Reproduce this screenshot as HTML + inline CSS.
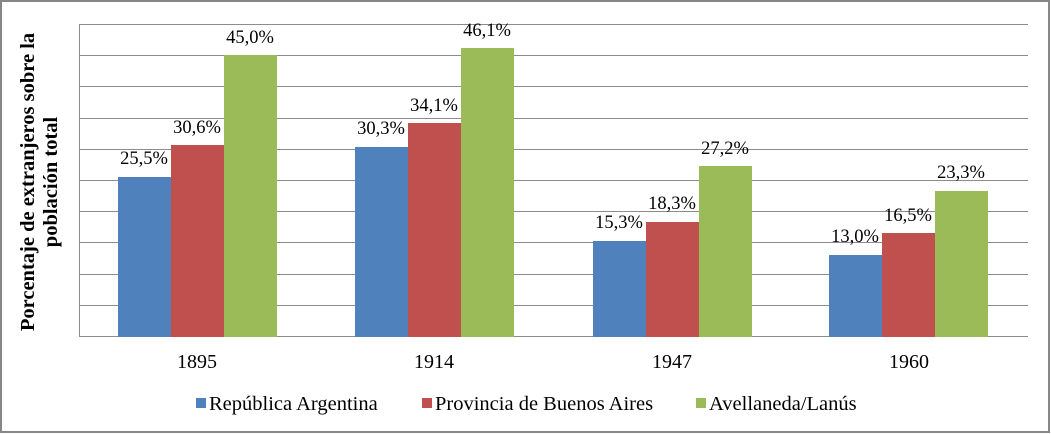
<!DOCTYPE html>
<html><head><style>body{margin:0;background:#fff}svg{display:block}</style></head><body>
<svg width="1051" height="434" xmlns="http://www.w3.org/2000/svg" font-family="Liberation Serif, serif">
<rect x="1" y="1" width="1048" height="431" fill="#fff" stroke="#878787" stroke-width="2"/>
<g stroke="#8c8c8c" stroke-width="1">
<line x1="79" y1="24.5" x2="1028" y2="24.5"/><line x1="79" y1="55.5" x2="1028" y2="55.5"/><line x1="79" y1="86.5" x2="1028" y2="86.5"/><line x1="79" y1="118.5" x2="1028" y2="118.5"/><line x1="79" y1="149.5" x2="1028" y2="149.5"/><line x1="79" y1="180.5" x2="1028" y2="180.5"/><line x1="79" y1="211.5" x2="1028" y2="211.5"/><line x1="79" y1="242.5" x2="1028" y2="242.5"/><line x1="79" y1="274.5" x2="1028" y2="274.5"/><line x1="79" y1="305.5" x2="1028" y2="305.5"/><line x1="79" y1="336.5" x2="1028" y2="336.5"/>
<line x1="79.5" y1="24" x2="79.5" y2="337"/>
</g>
<g>
<rect x="118" y="177" width="53" height="160" fill="#4f81bd"/>
<rect x="171" y="145" width="53" height="192" fill="#c0504d"/>
<rect x="224" y="55" width="53" height="282" fill="#9bbb59"/>
<rect x="355" y="147" width="53" height="190" fill="#4f81bd"/>
<rect x="408" y="123" width="53" height="214" fill="#c0504d"/>
<rect x="461" y="48" width="53" height="289" fill="#9bbb59"/>
<rect x="593" y="241" width="53" height="96" fill="#4f81bd"/>
<rect x="646" y="222" width="53" height="115" fill="#c0504d"/>
<rect x="699" y="166" width="53" height="171" fill="#9bbb59"/>
<rect x="829" y="255" width="53" height="82" fill="#4f81bd"/>
<rect x="882" y="233" width="53" height="104" fill="#c0504d"/>
<rect x="935" y="191" width="53" height="146" fill="#9bbb59"/>
</g>
<g font-size="18.5" text-anchor="middle" fill="#000">
<text x="144" y="164">25,5%</text><text x="197" y="133">30,6%</text><text x="250" y="43">45,0%</text>
<text x="381" y="134">30,3%</text><text x="434" y="111">34,1%</text><text x="487" y="36">46,1%</text>
<text x="619" y="228">15,3%</text><text x="672" y="209">18,3%</text><text x="725" y="154">27,2%</text>
<text x="855" y="242">13,0%</text><text x="908" y="221">16,5%</text><text x="961" y="178">23,3%</text>
</g>
<g font-size="20" text-anchor="middle">
<text x="197" y="368">1895</text><text x="434" y="368">1914</text><text x="672" y="368">1947</text><text x="909" y="368">1960</text>
</g>
<g font-size="20.5" font-weight="bold" text-anchor="middle">
<text transform="translate(34,182) rotate(-90)">Porcentaje de extranjeros sobre la</text>
<text transform="translate(57,182) rotate(-90)">población total</text>
</g>
<g font-size="20.5">
<rect x="196" y="398" width="10" height="10" fill="#4f81bd"/><text x="209" y="410">República Argentina</text>
<rect x="422" y="398" width="10" height="10" fill="#c0504d"/><text x="435" y="410">Provincia de Buenos Aires</text>
<rect x="696" y="398" width="10" height="10" fill="#9bbb59"/><text x="709" y="410">Avellaneda/Lanús</text>
</g>
</svg>
</body></html>
